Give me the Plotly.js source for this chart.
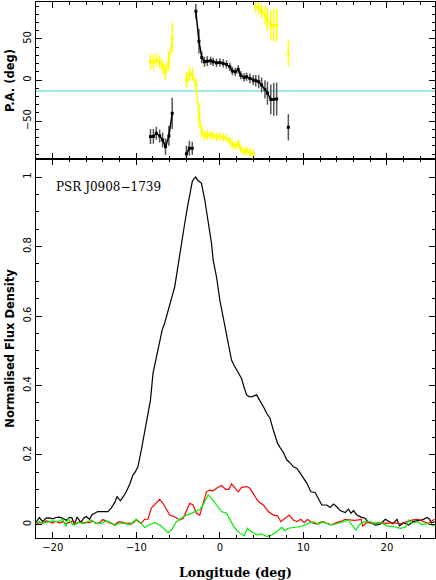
<!DOCTYPE html>
<html>
<head>
<meta charset="utf-8">
<script src="https://cdn.plot.ly/plotly-3.0.1.min.js"></script>
<style>
  html, body { margin: 0; padding: 0; background: #fff; }
  #chart { width: 436px; height: 580px; }
</style>
</head>
<body>
<div id="chart"></div>
<script>
// total intensity (black)
var iLon = [-22.0, -21.6, -21.2, -20.8, -20.4, -20.0, -19.6, -19.2, -18.8, -18.4, -18.0, -17.7, -17.4, -17.1,
  -16.6, -16.3, -16.0, -15.6, -15.3, -15.0, -14.6, -14.2, -13.8, -13.4, -13.0, -12.6, -12.3, -11.9, -11.5,
  -11.2, -10.8, -10.4, -10.1, -9.8, -9.4, -9.0, -8.6, -8.3, -8.0, -7.6, -7.2, -6.9, -6.6, -6.2, -5.8, -5.4,
  -5.1, -4.8, -4.5, -4.2, -3.9, -3.6, -3.3, -3.1, -2.9, -2.6, -2.2, -1.8, -1.5, -1.3, -1.0, -0.8, -0.4, 0.0,
  0.3, 0.6, 1.0, 1.4, 1.7, 2.0, 2.3, 2.6, 2.9, 3.2, 3.5, 3.8, 4.1, 4.4, 4.7, 5.0, 5.3, 5.6, 6.0, 6.4, 6.9,
  7.2, 7.6, 8.0, 8.3, 8.8, 9.2, 9.5, 9.8, 10.1, 10.4, 10.7, 10.9, 11.4, 11.8, 12.2, 12.8, 13.2, 13.6, 14.0,
  14.4, 15.0, 15.4, 15.7, 16.0, 16.4, 16.9, 17.4, 17.7, 18.2, 18.6, 19.2, 19.8, 20.1, 20.7, 21.2, 21.5,
  22.0, 22.6, 23.1, 23.7, 24.3, 24.8, 25.1, 25.3, 25.7];
var iFlux = [0.006, 0.02, 0.008, 0.018, 0.019, 0.016, 0.02, 0.021, 0.018, 0.012, 0.02, 0.019, -0.002, 0.021,
  0.006, 0.018, 0.023, 0.015, 0.028, 0.032, 0.037, 0.037, 0.038, 0.037, 0.047, 0.062, 0.08, 0.068, 0.082,
  0.094, 0.115, 0.142, 0.152, 0.166, 0.214, 0.263, 0.31, 0.358, 0.435, 0.483, 0.531, 0.56, 0.58, 0.615, 0.646, 0.684,
  0.73, 0.78, 0.825, 0.867, 0.91, 0.95, 0.987, 0.995, 1.0, 0.99, 0.982, 0.934, 0.89, 0.867, 0.81, 0.761, 0.713, 0.646,
  0.61, 0.579, 0.531, 0.473, 0.458, 0.445, 0.432, 0.42, 0.395, 0.373, 0.368, 0.367, 0.37, 0.373, 0.36, 0.349, 0.335, 0.32, 0.306, 0.272, 0.234,
  0.222, 0.208, 0.186, 0.18, 0.166, 0.162, 0.152, 0.142, 0.13, 0.119, 0.104, 0.094, 0.092, 0.075, 0.056, 0.056, 0.049, 0.059, 0.051,
  0.04, 0.034, 0.044, 0.032, 0.04, 0.027, 0.021, 0.018, 0.008, 0.004, -0.002, 0.001, 0.015, 0.01, 0.002, 0.015, -0.004,
  0.005, -0.002, 0.008, 0.01, 0.014, 0.02, 0.015, 0.004, 0.008];

// linear polarisation (red)
var lLon = [-22.0, -21.6, -21.2, -20.8, -20.4, -20.0, -19.6, -19.2, -18.8, -18.4, -18.0, -17.6, -17.2, -16.8,
  -16.4, -16.0, -15.6, -15.2, -14.8, -14.4, -14.0, -13.7, -13.4, -13.0, -12.6, -12.3, -12.0, -11.6, -11.2,
  -10.8, -10.6, -10.3, -10.0, -9.7, -9.4, -9.0, -8.6, -8.2, -7.7, -7.2, -6.8, -6.4, -6.0, -5.4, -4.8, -4.4,
  -4.0, -3.6, -3.2, -2.8, -2.4, -2.0, -1.6, -1.2, -0.8, -0.4, 0.2, 0.7, 1.1, 1.4, 1.8, 2.2, 2.6, 3.2, 3.6,
  4.2, 4.6, 5.2, 5.8, 6.4, 6.9, 7.3, 7.8, 8.3, 8.8, 9.2, 9.7, 10.1, 10.5, 11.0, 11.6, 12.2, 12.8, 13.4, 14.0,
  14.6, 15.0, 15.6, 16.1, 16.6, 16.9, 17.1, 17.6, 18.3, 19.2, 20.0, 20.8, 21.6, 22.4, 23.1, 23.7, 24.3, 24.9, 25.7];
var lFlux = [0.0, 0.006, 0.003, 0.01, 0.008, 0.004, 0.009, 0.004, 0.008, 0.002, 0.006, 0.01, 0.002, 0.008,
  0.004, 0.006, 0.005, 0.01, 0.003, 0.005, 0.014, 0.01, 0.008, 0.003, -0.001, 0.005, 0.008, 0.005, 0.003,
  0.004, 0.001, 0.006, 0.013, 0.008, 0.003, 0.015, 0.015, 0.047, 0.061, 0.072, 0.061, 0.042, 0.027, 0.022, 0.013, 0.017,
  0.037, 0.061, 0.056, 0.032, 0.027, 0.061, 0.094, 0.099, 0.097, 0.104, 0.112, 0.101, 0.101, 0.117, 0.104, 0.094, 0.107, 0.109, 0.104,
  0.08, 0.066, 0.056, 0.037, 0.027, 0.025, 0.008, 0.018, 0.027, 0.013, 0.008, 0.015, 0.005, 0.015, 0.005, 0.001, 0.008, 0.003, -0.001, 0.006,
  0.01, 0.015, 0.013, 0.012, 0.013, 0.015, -0.005, 0.006, 0.003, 0.005, 0.003, 0.005, 0.002, 0.008, 0.013, 0.015, 0.008, 0.003, 0.015];

// circular polarisation (green)
var vLon = [-22.0, -21.6, -21.2, -20.6, -20.0, -19.4, -18.8, -18.4, -18.2, -17.6, -17.0, -16.2, -15.4, -14.8,
  -14.2, -13.6, -13.0, -12.6, -12.0, -11.4, -10.8, -10.0, -9.6, -9.0, -8.4, -7.8, -7.2, -6.6, -6.2, -5.8,
  -5.2, -4.6, -4.0, -3.4, -3.0, -2.4, -1.9, -1.4, -1.0, -0.4, 0.2, 0.8, 1.2, 1.8, 2.4, 2.9, 3.3, 3.8, 4.4,
  5.0, 5.6, 6.2, 6.8, 7.4, 7.8, 8.2, 9.0, 9.8, 10.6, 11.2, 11.8, 12.4, 13.2, 14.0, 14.8, 15.4, 15.8, 16.3,
  16.7, 17.3, 17.9, 18.6, 19.2, 20.0, 20.8, 21.6, 22.2, 22.6, 23.0, 23.6, 24.2, 24.8, 25.7];
var vFlux = [0.005, 0.008, 0.003, 0.006, 0.01, 0.008, 0.015, -0.006, 0.018, -0.001, 0.006, 0.003, 0.013, 0.002,
  0.003, 0.01, 0.005, -0.003, 0.004, 0.003, -0.001, 0.015, 0.008, -0.009, 0.0, 0.005, -0.001, -0.014, -0.024, -0.016,
  0.008, 0.018, 0.027, 0.032, 0.037, 0.042, 0.061, 0.085, 0.075, 0.056, 0.037, 0.032, 0.013, -0.011, -0.025, -0.033, -0.011, -0.021, -0.03,
  -0.027, -0.035, -0.03, -0.021, -0.008, -0.018, -0.011, -0.008, -0.006, 0.003, 0.008, 0.001, 0.008, -0.001, 0.002, 0.008, 0.013, -0.001, -0.016,
  -0.001, 0.008, 0.008, 0.002, 0.006, -0.004, -0.006, -0.011, -0.008, 0.013, 0.003, 0.008, -0.001, 0.003, -0.004];

// position angle (black), null = gap
var paLon = [-8.3, -7.95, -7.6, -7.2, -6.85, -6.5, -6.1, -5.7, -4.9, -4.0, -3.65, -3.3, -3.1,
  -2.87, -2.5, -2.16, -1.84, -1.5, -1.1, -0.8, -0.4, 0.0, 0.4, 0.8, 1.2, 1.5, 1.85, 2.2, 2.5, 2.9, 3.2,
  3.6, 4.0, 4.3, 4.65, 5.0, 5.4, 5.7, 6.1, 6.45, 6.8, 7.5, 8.2];
var paDeg = [-68.8, -68.5, -64.7, -68, -72.8, -81, -68, -40.4, null, -89.8, -82.9, -83, null,
  83.7, 47.3, 27.5, 22.3, 23, 23.4, 22.2, 21, 21.4, 20.2, 19, 16.2, 11, 10, 13, 6, 3.2, 4,
  2, 0, -0.8, -2, -6, -11.3, -16, -23.5, -23.5, -23, null, -57.4];
var paErr = [9, 9, 8, 8, 9, 10, 12, 19, 0, 10, 9, 8, 0,
  9, 15, 7, 6, 6, 5, 5, 5, 5, 5, 5, 5, 5, 5, 5, 5, 5, 5,
  6, 6, 7, 8, 9, 11, 14, 18, 20, 20, 0, 16];

// orthogonal mode position angle (yellow)
var opLon = [-8.3, -7.95, -7.6, -7.2, -6.85, -6.5, -6.1, -5.7, -4.9, -4.0, -3.65, -3.3,
  -2.87, -2.5, -2.16, -1.84, -1.5, -1.1, -0.8, -0.4, 0.0, 0.4, 0.8, 1.2, 1.5, 1.85, 2.2, 2.5, 2.9, 3.2,
  3.6, 4.0, 4.15, 4.3, 4.65, 5.0, 5.4, 5.7, 6.1, 6.45, 6.8, 7.5, 8.2];
var opDeg = [22.2, 22, 25, 22, 16, 10, 23, 50.6, null, 0.2, 7.1, 7,
  -6.3, -42.7, -62.5, -67.7, -67, -66.6, -67.8, -69, -68.6, -69.8, -71, -73.8, -79, -80, -77, -84, -86.8, -86,
  -88, -90, null, 89.2, 88, 84, 78.7, 74, 66.5, 66.5, 67, null, 32.6];
var opErr = [9, 9, 8, 8, 9, 10, 12, 19, 0, 10, 9, 8,
  9, 15, 7, 6, 6, 5, 5, 5, 5, 5, 5, 5, 5, 5, 5, 5, 5, 5,
  6, 6, 0, 7, 8, 9, 11, 14, 18, 20, 20, 0, 16];

var paRef = -13.3;
var psrName = 'PSR J0908\u22121739';

var tickFont = {family: 'DejaVu Sans, sans-serif', size: 10, color: '#000'};
var titleSans = {family: 'DejaVu Sans, sans-serif', size: 11.5, color: '#000', weight: 'bold'};

var data = [
  {x: iLon, y: iFlux, xaxis: 'x', yaxis: 'y', type: 'scatter', mode: 'lines',
   line: {color: '#000000', width: 1.2}, hoverinfo: 'skip'},
  {x: lLon, y: lFlux, xaxis: 'x', yaxis: 'y', type: 'scatter', mode: 'lines',
   line: {color: '#ff0000', width: 1.2}, hoverinfo: 'skip'},
  {x: vLon, y: vFlux, xaxis: 'x', yaxis: 'y', type: 'scatter', mode: 'lines',
   line: {color: '#00ee00', width: 1.2}, hoverinfo: 'skip'},
  {x: opLon, y: opDeg, xaxis: 'x2', yaxis: 'y2', type: 'scatter', mode: 'lines+markers',
   line: {color: '#ffff00', width: 1.5}, marker: {color: '#ffff00', size: 3, symbol: 'square'},
   error_y: {type: 'data', array: opErr, visible: true, color: '#ffff00', thickness: 1.5, width: 0},
   connectgaps: false, hoverinfo: 'skip'},
  {x: paLon, y: paDeg, xaxis: 'x2', yaxis: 'y2', type: 'scatter', mode: 'lines+markers',
   line: {color: '#000000', width: 1.5}, marker: {color: '#000000', size: 3, symbol: 'square'},
   error_y: {type: 'data', array: paErr, visible: true, color: '#555555', thickness: 1.5, width: 0},
   connectgaps: false, hoverinfo: 'skip'}
];

var axisCommon = {
  showline: true, linecolor: '#000', linewidth: 1, mirror: 'ticks',
  ticks: 'inside', ticklen: 6, tickwidth: 1, tickcolor: '#000',
  showgrid: false, zeroline: false, tickfont: tickFont
};

var layout = {
  width: 436, height: 580,
  margin: {l: 36, r: 1, t: 2, b: 42},
  paper_bgcolor: '#fff', plot_bgcolor: '#fff',
  showlegend: false,
  xaxis: Object.assign({}, axisCommon, {
    anchor: 'y', range: [-22, 25.75], dtick: 10, tick0: 0,
    minor: {dtick: 2, ticklen: 3, ticks: 'inside', tickcolor: '#000'},
    title: {text: 'Longitude (deg)', font: {family: 'DejaVu Serif, serif', size: 12.5, color: '#000', weight: 'bold'}, standoff: 17}
  }),
  xaxis2: Object.assign({}, axisCommon, {
    anchor: 'y2', matches: 'x', showticklabels: false, dtick: 10, tick0: 0,
    minor: {dtick: 2, ticklen: 3, ticks: 'inside', tickcolor: '#000'}
  }),
  yaxis: Object.assign({}, axisCommon, {
    domain: [0, 0.7071], range: [-0.039, 1.052], dtick: 0.2, tick0: 0, tickangle: -90,
    minor: {dtick: 0.05, ticklen: 3, ticks: 'inside', tickcolor: '#000'},
    title: {text: 'Normalised Flux Density', font: titleSans, standoff: 4}
  }),
  yaxis2: Object.assign({}, axisCommon, {
    domain: [0.7071, 1], range: [-96, 95], dtick: 50, tick0: 0, tickangle: -90,
    minor: {dtick: 10, ticklen: 3, ticks: 'inside', tickcolor: '#000'},
    title: {text: 'P.A. (deg)', font: titleSans, standoff: 4}
  }),
  shapes: [
    {type: 'line', xref: 'paper', x0: 0, x1: 1, yref: 'y2', y0: paRef, y1: paRef,
     line: {color: '#40d8d8', width: 1}, layer: 'below'}
  ],
  annotations: [
    {text: psrName, xref: 'x', yref: 'y', x: -19.8, y: 0.972, xanchor: 'left', yanchor: 'middle',
     showarrow: false, font: {family: 'DejaVu Serif, serif', size: 12, color: '#000'}}
  ]
};

Plotly.newPlot('chart', data, layout, {displayModeBar: false, staticPlot: true});
</script>
</body>
</html>
